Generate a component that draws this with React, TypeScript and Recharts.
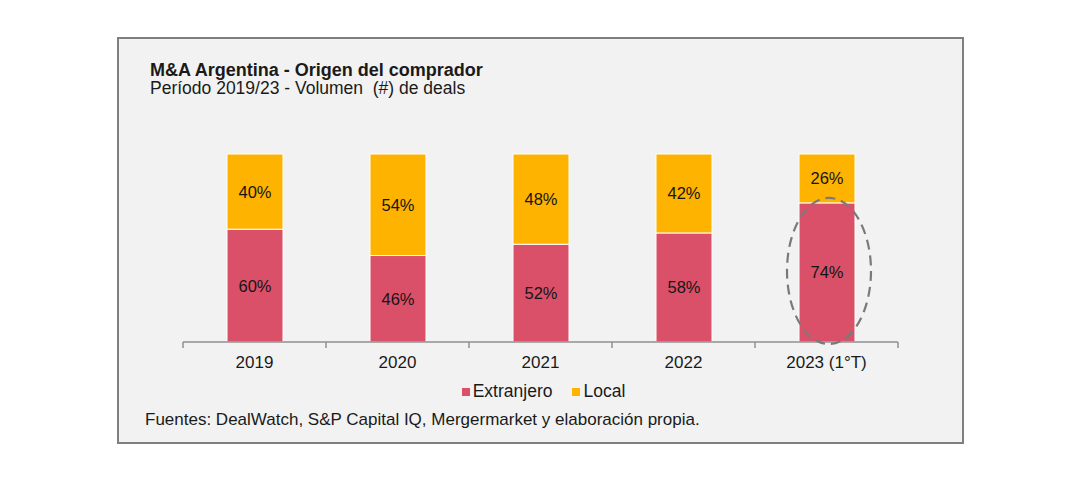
import { BarChart, Bar, XAxis, YAxis, Legend, LabelList } from 'recharts';

const years = ['2019', '2020', '2021', '2022', '2023 (1°T)'];
const extranjero = [60, 46, 52, 58, 74];
const local = [40, 54, 48, 42, 26];
const highlightIndex = 4;

const FONT = '"Liberation Sans", Arial, sans-serif';
const RED = '#db5069';
const YELLOW = '#fdb300';
const AXIS = '#8f8f8f';
const TICK_SIZE = 6;
const TICK_MARGIN = 8;

const data = years.map((year, i) => ({
    year,
    extranjero: extranjero[i],
    local: local[i],
}));

const pctLabel = (props: any) => {
    const { x, y, width, height, value } = props;
    return (
        <text
            x={x + width / 2}
            y={y + height / 2}
            textAnchor="middle"
            dominantBaseline="central"
            fontSize={16.5}
            fontFamily={FONT}
            fill="#151515"
        >
            {value}%
        </text>
    );
};

// category label plus Excel-style tick marks between categories
const yearTick = (props: any) => {
    const { x, y, payload, index, visibleTicksCount, width } = props;
    const band = (width || 715) / (visibleTicksCount || years.length);
    const axisY = y - TICK_SIZE - TICK_MARGIN;
    const left = x - band / 2;
    return (
        <g>
            <line x1={left} x2={left} y1={axisY} y2={axisY + TICK_SIZE} stroke={AXIS} strokeWidth={1.5} />
            {index === (visibleTicksCount || years.length) - 1 && (
                <line x1={left + band} x2={left + band} y1={axisY} y2={axisY + TICK_SIZE} stroke={AXIS} strokeWidth={1.5} />
            )}
            <text x={x} y={y} dy="0.71em" textAnchor="middle" fontSize={17} fontFamily={FONT} fill="#1a1a1a">
                {payload.value}
            </text>
        </g>
    );
};

// dashed ellipse around the foreign-buyer share of the last period
const highlightEllipse = (props: any) => {
    const { x, y, width, height, index } = props;
    if (index !== highlightIndex) return null;
    const redTop = y + height;
    const bottom = y + (height * 100) / local[index];
    const cx = x + width / 2 + 2;
    const top = redTop - 5;
    const bot = bottom + 2;
    return (
        <ellipse
            cx={cx}
            cy={(top + bot) / 2}
            rx={width / 2 + 14}
            ry={(bot - top) / 2}
            fill="none"
            stroke="#7a7a7a"
            strokeWidth={2.2}
            strokeDasharray="10 6"
        />
    );
};

export default function App() {
    return (
        <div style={{ position: 'fixed', left: 0, top: 0, width: 1080, height: 486, background: '#fff', fontFamily: FONT }}>
            <div
                style={{
                    position: 'absolute',
                    left: 117,
                    top: 37,
                    width: 843,
                    height: 403,
                    border: '2px solid #7f7f7f',
                    background: '#f2f2f2',
                }}
            />
            <div style={{ position: 'absolute', left: 150, top: 61, fontSize: 18, lineHeight: 1, fontWeight: 'bold', color: '#1a1a1a', whiteSpace: 'nowrap' }}>
                M&amp;A Argentina - Origen del comprador
            </div>
            <div style={{ position: 'absolute', left: 150, top: 80, fontSize: 17.5, lineHeight: 1, color: '#1a1a1a', whiteSpace: 'nowrap' }}>
                Período 2019/23 - Volumen&nbsp; (#) de deals
            </div>
            <div style={{ position: 'absolute', left: 145, top: 410, fontSize: 17, color: '#1a1a1a', whiteSpace: 'nowrap' }}>
                Fuentes: DealWatch, S&amp;P Capital IQ, Mergermarket y elaboración propia.
            </div>
            <div style={{ position: 'absolute', left: 118, top: 38 }}>
                <BarChart
                    width={845}
                    height={405}
                    data={data}
                    margin={{ top: 116, right: 65, bottom: 71, left: 65 }}
                    barCategoryGap={0}
                >
                    <XAxis
                        dataKey="year"
                        height={30}
                        stroke={AXIS}
                        axisLine={{ stroke: AXIS, strokeWidth: 1.5 }}
                        tickLine={false}
                        tickSize={TICK_SIZE}
                        tickMargin={TICK_MARGIN}
                        interval={0}
                        tick={yearTick}
                    />
                    <YAxis hide domain={[0, 100]} />
                    <Legend
                        layout="horizontal"
                        verticalAlign="middle"
                        align="center"
                        iconType="square"
                        iconSize={8}
                        wrapperStyle={{ top: 343, left: 8, width: 845, fontSize: 17.5, fontFamily: FONT }}
                        formatter={(value: string, _entry: any, index: number) => (
                            <span style={{ color: '#1a1a1a', marginLeft: -1, marginRight: index === 0 ? 10 : 0 }}>{value}</span>
                        )}
                    />
                    <Bar
                        dataKey="extranjero"
                        name="Extranjero"
                        stackId="a"
                        fill={RED}
                        barSize={56}
                        stroke="#fff"
                        strokeWidth={1}
                        isAnimationActive={false}
                    >
                        <LabelList dataKey="extranjero" content={pctLabel} />
                    </Bar>
                    <Bar
                        dataKey="local"
                        name="Local"
                        stackId="a"
                        fill={YELLOW}
                        barSize={56}
                        stroke="#fff"
                        strokeWidth={1}
                        isAnimationActive={false}
                    >
                        <LabelList dataKey="local" content={pctLabel} />
                        <LabelList dataKey="local" content={highlightEllipse} />
                    </Bar>
                </BarChart>
            </div>
        </div>
    );
}
